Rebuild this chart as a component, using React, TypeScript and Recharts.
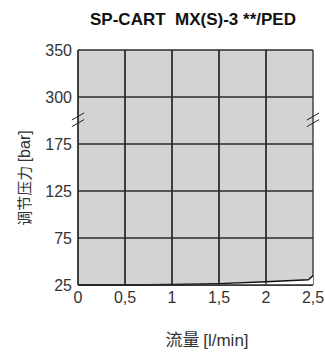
import {
  ComposedChart,
  Line,
  Area,
  XAxis,
  YAxis,
  CartesianGrid,
  ReferenceLine,
} from "recharts";

// flow [l/min] and regulated pressure [bar]
const flow = [0, 0.5, 1, 1.5, 2, 2.45, 2.5];
const pressure = [25, 25, 25.6, 26.5, 28.5, 30.6, 35];

const xTicks = [0, 0.5, 1, 1.5, 2, 2.5];
const yTickLabels = ["25", "75", "125", "175", "300", "350"];

// the y axis is broken between 175 and 300: each band is one step
const toBand = (v: number) => {
  if (v <= 175) return (v - 25) / 50;
  return 3 + (v - 175) / 125 + (v > 300 ? (v - 300) / 50 - (v - 300) / 125 : 0);
};

const data = flow.map((f, i) => ({ flow: f, p: toBand(pressure[i]) }));

const AXIS_FONT = "'Liberation Sans Narrow', 'Liberation Sans', sans-serif";
const GRID = "#2b2b2b";

const fmtX = (v: number) => String(v).replace(".", ",");

export default function App() {
  return (
    <div style={{ position: "absolute", left: 0, top: 0, width: 325, height: 352, background: "#fff" }}>
      <div
        style={{
          position: "absolute",
          top: 10,
          left: 70,
          width: 246,
          textAlign: "center",
          fontFamily: "'Liberation Sans', Arial, sans-serif",
          fontWeight: "bold",
          fontSize: 17,
          lineHeight: "20px",
          whiteSpace: "pre",
          color: "#111",
        }}
      >
        {"SP-CART  MX(S)-3 **/PED"}
      </div>
      <ComposedChart
        width={325}
        height={352}
        data={data}
        margin={{ top: 50, right: 12, bottom: 37, left: 0 }}
      >
        <CartesianGrid
          fill="#d3d3d5"
          fillOpacity={1}
          stroke={GRID}
          strokeWidth={1.3}
          horizontalValues={[0, 1, 2, 3, 4, 5]}
          verticalValues={xTicks}
        />
        <XAxis
          type="number"
          dataKey="flow"
          domain={[0, 2.5]}
          ticks={xTicks}
          tickFormatter={fmtX}
          tickLine={false}
          axisLine={{ stroke: GRID, strokeWidth: 1.5 }}
          tick={{ fill: "#333", fontSize: 16, fontFamily: AXIS_FONT }}
          tickMargin={1}
          height={30}
          interval={0}
        />
        <YAxis
          type="number"
          domain={[0, 5]}
          ticks={[0, 1, 2, 3, 4, 5]}
          tickFormatter={(v: number) => yTickLabels[v]}
          tickLine={false}
          axisLine={{ stroke: GRID, strokeWidth: 1.3 }}
          tick={{ fill: "#333", fontSize: 16, fontFamily: AXIS_FONT }}
          tickMargin={0}
          width={78}
          interval={0}
        />
        <Area
          dataKey="p"
          type="linear"
          fill="#ffffff"
          fillOpacity={1}
          stroke="none"
          baseValue={0}
          isAnimationActive={false}
        />
        {[0.5, 1, 1.5, 2].map((x) => (
          <ReferenceLine key={x} x={x} stroke={GRID} strokeWidth={1.3} />
        ))}
        <Line
          dataKey="p"
          type="linear"
          stroke="#111"
          strokeWidth={1.4}
          dot={false}
          isAnimationActive={false}
        />
        {/* axis break marks */}
        {[0, 2.5].map((x) =>
          [3.37, 3.51].map((y) => (
            <ReferenceLine
              key={`${x}-${y}`}
              segment={[
                { x: x - 0.065, y },
                { x: x + 0.065, y: y + 0.15 },
              ]}
              stroke="#222"
              strokeWidth={1}
              ifOverflow="visible"
            />
          ))
        )}
      </ComposedChart>
      <div
        style={{
          position: "absolute",
          left: 23,
          top: 178,
          transform: "translate(-50%, -50%) rotate(-90deg)",
          whiteSpace: "nowrap",
          fontFamily: "'Noto Sans CJK SC', 'Liberation Sans', sans-serif",
          fontSize: 15,
          color: "#333",
        }}
      >
        调节压力 <span style={{ fontFamily: "'Liberation Sans', sans-serif", fontSize: 16 }}>[bar]</span>
      </div>
      <div
        style={{
          position: "absolute",
          left: 207,
          top: 338,
          transform: "translate(-50%, -50%)",
          whiteSpace: "nowrap",
          fontFamily: "'Noto Sans CJK SC', 'Liberation Sans', sans-serif",
          fontSize: 17,
          color: "#333",
        }}
      >
        流量 <span style={{ fontFamily: "'Liberation Sans', sans-serif", fontSize: 17 }}>[l/min]</span>
      </div>
    </div>
  );
}
